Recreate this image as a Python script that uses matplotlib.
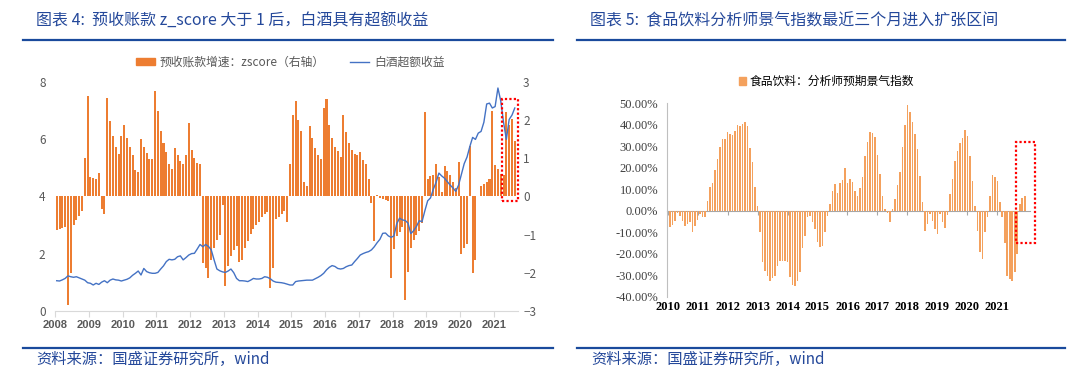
import numpy as np
import matplotlib
matplotlib.use("Agg")
import matplotlib.pyplot as plt
from matplotlib.patches import Rectangle, Patch
from matplotlib.lines import Line2D

# ── 数据 ──────────────────────────────
# 图表4: 预收账款增速 zscore（右轴），2008-01 ~ 2021-08 月度
zscore = [
    -0.88, -0.85, -0.83, -0.81, -2.85, -2.01, -0.74, -0.63, -0.50, -0.39, 1.00, 2.63,   # 2008
    0.50, 0.48, 0.47, 0.61, -0.32, -0.46, 2.58, 1.99, 1.60, 1.31, 1.11, 1.60,           # 2009
    1.88, 1.53, 1.31, 1.09, 0.70, 0.64, 1.51, 1.29, 1.14, 0.99, 0.99, 2.78,             # 2010
    2.25, 1.73, 1.40, 1.18, 0.85, 0.72, 1.27, 1.08, 0.94, 0.85, 1.08, 1.94,             # 2011
    1.23, 1.01, 0.88, 0.85, -1.75, -1.88, -2.15, -1.66, -1.36, -1.14, -1.01, -0.22,     # 2012
    -2.35, -1.82, -1.55, -1.40, -1.31, -1.71, -1.66, -1.36, -1.16, -0.99, -0.85, -0.74, # 2013
    -0.66, -0.55, -0.46, -0.40, -2.41, -1.88, -0.59, -0.53, -0.46, -0.39, -0.66, 0.85,  # 2014
    2.15, 2.50, 2.01, 1.71, 0.39, 0.28, 1.86, 1.53, 1.27, 1.09, 0.98, 2.32,             # 2015
    2.57, 1.88, 1.53, 1.31, 1.20, 1.05, 2.13, 1.69, 1.40, 1.23, 1.11, 1.08,             # 2016
    1.16, 0.96, 0.85, 0.46, -0.18, -1.16, 0.04, -0.04, -0.06, -0.09, -0.13, -2.13,      # 2017
    -1.38, -1.05, -0.92, -0.80, -2.72, -1.98, -1.36, -1.14, -1.00, -0.90, -0.70, 2.23,  # 2018
    0.46, 0.53, 0.57, 0.85, 0.50, 0.13, 0.79, 0.68, 0.56, 0.38, 0.22, 0.90,             # 2019
    -1.52, -1.36, -1.25, 1.33, -2.01, -1.66, 0.02, 0.28, 0.32, 0.39, 0.46, 2.25,        # 2020
    0.83, 0.71, 0.60, 0.56, 2.21, 1.88, 2.03, 1.46,                                     # 2021
]

# 白酒超额收益（左轴）
excess = [
    1.05, 1.04, 1.08, 1.13, 1.22, 1.19, 1.17, 1.19, 1.15, 1.11, 1.07, 0.98,  # 2008
    0.96, 0.90, 0.96, 0.92, 1.00, 1.05, 0.98, 1.07, 1.11, 1.08, 1.07, 1.04,  # 2009
    1.07, 1.10, 1.15, 1.24, 1.31, 1.39, 1.25, 1.48, 1.37, 1.33, 1.31, 1.31,  # 2010
    1.34, 1.46, 1.57, 1.72, 1.80, 1.78, 1.80, 1.89, 1.92, 1.78, 1.86, 1.95,  # 2011
    2.00, 2.01, 2.16, 2.32, 2.24, 2.32, 2.25, 2.13, 1.78, 1.46, 1.40, 1.36,  # 2012
    1.34, 1.39, 1.46, 1.33, 1.13, 1.05, 1.05, 1.04, 1.02, 1.07, 1.13, 1.11,  # 2013
    1.11, 1.13, 1.19, 1.17, 1.12, 1.04, 1.00, 0.99, 0.98, 0.96, 0.93, 0.90,  # 2014
    0.90, 1.02, 1.04, 1.05, 1.06, 1.07, 1.07, 1.07, 1.12, 1.17, 1.23, 1.31,  # 2015
    1.43, 1.52, 1.58, 1.55, 1.48, 1.46, 1.48, 1.54, 1.58, 1.60, 1.72, 1.83,  # 2016
    1.95, 2.00, 2.04, 2.07, 2.13, 2.24, 2.38, 2.50, 2.71, 2.72, 2.62, 2.57,  # 2017
    2.62, 3.05, 3.24, 3.18, 3.16, 3.07, 2.70, 2.80, 2.95, 3.15, 3.12, 3.50,  # 2018
    3.85, 3.95, 4.25, 4.50, 4.82, 4.72, 4.64, 4.52, 4.40, 4.30, 4.18, 4.40,  # 2019
    4.78, 5.15, 5.38, 5.75, 6.07, 6.00, 6.22, 6.28, 6.60, 7.24, 7.27, 7.10,  # 2020
    7.15, 7.80, 7.35, 6.60, 6.00, 6.70, 6.85, 7.10,                          # 2021
]
left_years = [str(y) for y in range(2008, 2022)]

# 图表5: 食品饮料分析师预期景气指数（%），2010-01 ~ 2021-12
sentiment = [
    -12.9, -7.5, -6.5, -5.0, -1.0, -2.6, -4.7, -7.0, -6.0, -5.2, -9.8, -7.0,          # 2010
    -4.2, -1.6, -2.8, -3.1, 4.7, 10.9, 13.0, 19.1, 24.1, 29.5, 33.4, 33.4,            # 2011
    36.8, 35.5, 35.2, 37.3, 39.9, 39.6, 40.4, 41.5, 39.6, 29.2, 22.5, 10.9,           # 2012
    2.3, -10.1, -23.8, -28.0, -30.3, -32.6, -31.5, -30.3, -25.6, -23.3, -23.3, -23.3, # 2013
    -24.0, -31.0, -34.6, -35.2, -32.6, -28.7, -17.5, -11.6, -3.1, -2.3, -5.4, -8.5,   # 2014
    -14.7, -17.0, -16.6, -10.0, -2.3, 3.1, 9.3, 12.4, 8.2, 12.7, 14.3, 19.7,          # 2015
    12.9, 14.8, 13.5, 9.3, 6.7, 10.4, 15.5, 25.6, 31.8, 36.8, 36.2, 34.5,             # 2016
    25.9, 17.1, 7.0, 0.8, -1.0, -5.4, 1.0, 5.4, 12.0, 18.2, 29.5, 40.0,               # 2017
    49.0, 45.8, 41.5, 35.7, 28.7, 16.3, 3.9, -9.3, -6.2, -1.5, -4.7, -8.5,            # 2018
    -10.9, -1.6, -5.1, -8.2, -2.0, 7.8, 14.8, 23.3, 28.0, 31.5, 34.0, 37.7,           # 2019
    34.6, 25.3, 14.0, 2.3, -9.3, -19.1, -22.5, -9.8, -3.1, 7.0, 16.6, 15.5,           # 2020
    14.0, 3.9, -3.1, -14.8, -30.3, -31.8, -32.6, -28.7, -20.2, 3.0, 6.0, 7.0,         # 2021
]
right_years = [str(y) for y in range(2010, 2022)]
right_yticks = [-40, -30, -20, -10, 0, 10, 20, 30, 40, 50]

# 红色虚线框（高亮最近几个月）
left_box = (158.4, 164.0, 3.84, 7.41)      # x0, x1, 左轴 y0, y1
right_box = (139.5, 147.0, -14.8, 32.0)    # x0, x1, y0, y1

# ── 样式 ──────────────────────────────
plt.rcParams['font.family'] = ['Noto Sans CJK SC', 'DejaVu Sans']
TITLE_BLUE = '#24489A'
RULE_BLUE = '#1A4A9C'
ORANGE = '#ED7D31'
ORANGE_LIGHT = '#F4A15D'
LINE_BLUE = '#4472C4'
GRAY_TXT = '#595959'

W, H = 1080, 382
fig = plt.figure(figsize=(W / 100, H / 100), dpi=100)


def px(x, y):
    return x / W, 1 - y / H


# 标题、分隔线、资料来源
fig.text(*px(36, 21), "图表 4:  预收账款 z_score 大于 1 后，白酒具有超额收益",
         color=TITLE_BLUE, fontsize=11.5, va='center', ha='left')
fig.text(*px(590, 21), "图表 5:  食品饮料分析师景气指数最近三个月进入扩张区间",
         color=TITLE_BLUE, fontsize=11.5, va='center', ha='left')
for x0, x1 in [(23, 553), (577, 1065)]:
    for yy in (40, 348):
        (a, b), (c, d) = px(x0, yy), px(x1, yy)
        fig.add_artist(Line2D([a, c], [b, d], color=RULE_BLUE, lw=1.6))
for x0 in (36, 591):
    fig.text(*px(x0, 359), "资料来源：国盛证券研究所，wind",
             color=TITLE_BLUE, fontsize=11, va='center', ha='left')

# ── 左图 ──────────────────────────────
ax = fig.add_axes([55.3 / W, (H - 310.7) / H, 462.3 / W, 228.4 / H])
ax2 = ax.twinx()   # twinx 会把 ax 的刻度放到左边，下面再调回来

x = np.arange(len(zscore))
ax.bar(x, zscore, width=0.72, color=ORANGE, zorder=2)
ax.set_ylim(-3, 3)
ax.set_xlim(-0.5, 164)
ax.set_yticks(range(-3, 4))
ax.yaxis.tick_right()
ax.set_xticks([12 * k - 0.5 for k in range(len(left_years))])
ax.set_xticklabels(left_years)
ax.tick_params(axis='x', length=4, color='#D9D9D9', pad=3,
               labelsize=8, labelcolor=GRAY_TXT)
for t in ax.get_xticklabels():
    t.set_family('Liberation Sans')
    t.set_fontweight('bold')
ax.tick_params(axis='y', length=0, pad=4, labelsize=8.5, labelcolor=GRAY_TXT,
               left=False, labelleft=False, right=True, labelright=True)
for s in ['top', 'left', 'right']:
    ax.spines[s].set_visible(False)
ax.spines['bottom'].set_color('#D9D9D9')

ax2.plot(x, excess, color=LINE_BLUE, lw=1.0, zorder=3)
ax2.set_ylim(0, 8)
ax2.set_yticks([0, 2, 4, 6, 8])
ax2.yaxis.tick_left()
ax2.tick_params(axis='y', length=0, pad=7, labelsize=8.5, labelcolor=GRAY_TXT,
                left=True, labelleft=True, right=False, labelright=False)
for s in ax2.spines.values():
    s.set_visible(False)

bx0, bx1, by0, by1 = left_box
ax2.add_patch(Rectangle((bx0, by0), bx1 - bx0, by1 - by0, fill=False,
                        edgecolor='#FF0000', lw=1.6, linestyle=(0, (1, 1)),
                        clip_on=False, zorder=5))

handles = [Patch(color=ORANGE), Line2D([], [], color=LINE_BLUE, lw=1.0)]
ax2.legend(handles, ["预收账款增速：zscore（右轴）", "白酒超额收益"],
           loc='center', bbox_to_anchor=(0.508, 1.089), ncol=2, frameon=False,
           fontsize=8.5, handlelength=1.6, handleheight=0.5,
           columnspacing=2.2, handletextpad=0.4, labelcolor=GRAY_TXT)

# ── 右图 ──────────────────────────────
axr = fig.add_axes([666.6 / W, (H - 296.7) / H, 363.2 / W, 193.4 / H])
xr = np.arange(len(sentiment))
axr.bar(xr, sentiment, width=0.66, color=ORANGE_LIGHT, zorder=2)
axr.set_ylim(-40, 50)
axr.set_xlim(-0.4, 145)
axr.set_yticks(right_yticks)
axr.set_yticklabels([f"{v:.2f}%" for v in right_yticks])
axr.tick_params(axis='y', length=0, pad=6, labelsize=9, labelcolor='#404040')
for t in axr.get_yticklabels():
    t.set_family('Liberation Serif')
for s in ['top', 'right']:
    axr.spines[s].set_visible(False)
axr.spines['left'].set_color('#BFBFBF')
axr.spines['bottom'].set_position(('data', 0))
axr.spines['bottom'].set_color('#A6A6A6')
axr.spines['bottom'].set_zorder(1)
xt = [12 * k for k in range(len(right_years))]
axr.set_xticks(xt)
axr.tick_params(axis='x', length=3, color='#A6A6A6', labelbottom=False)

sec = axr.secondary_xaxis('bottom')
sec.set_xticks(xt)
sec.set_xticklabels(right_years)
sec.tick_params(length=0, pad=3, labelsize=9, labelcolor='black')
sec.spines['bottom'].set_visible(False)
for t in sec.get_xticklabels():
    t.set_family('Liberation Serif')
    t.set_fontweight('bold')

rx0, rx1, ry0, ry1 = right_box
axr.add_patch(Rectangle((rx0, ry0), rx1 - rx0, ry1 - ry0, fill=False,
                        edgecolor='#FF0000', lw=1.6, linestyle=(0, (1, 1)),
                        clip_on=False, zorder=5))

axr.legend([Patch(color=ORANGE_LIGHT)], ["食品饮料：分析师预期景气指数"],
           loc='center', bbox_to_anchor=(0.44, 1.113), frameon=False,
           fontsize=8.5, handlelength=0.6, handleheight=0.6, handletextpad=0.3)

fig.savefig("out.png", dpi=100)
